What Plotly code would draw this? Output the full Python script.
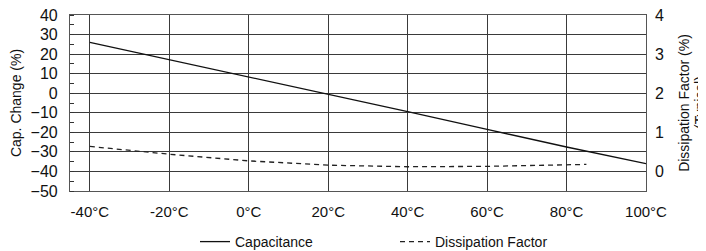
import plotly.graph_objects as go

# Data
cap_temp = [-40, -20, 0, 20, 40, 60, 80, 100]
cap_change = [26, 17.2, 8.3, -0.6, -9.4, -18.5, -27.5, -36]
df_temp = [-40, -20, 0, 20, 40, 60, 85]
df_value = [0.64, 0.44, 0.27, 0.16, 0.12, 0.13, 0.18]
x_tick_vals = [-40, -20, 0, 20, 40, 60, 80, 100]
x_tick_text = ["-40°C", "-20°C", "0°C", "20°C", "40°C", "60°C", "80°C", "100°C"]
y_tick_vals = [40, 30, 20, 10, 0, -10, -20, -30, -40, -50]
y2_tick_vals = [0, 1, 2, 3, 4]

FONT = "Liberation Sans, Arial, sans-serif"
GRID = "#3a3a3a"

# page body has an 8px default margin, so the figure is sized to fill the rest
W, H = 698, 243

fig = go.Figure()
fig.add_trace(go.Scatter(x=cap_temp, y=cap_change, mode="lines", name="Capacitance",
                         line=dict(color="#111111", width=1.3)))
fig.add_trace(go.Scatter(x=df_temp, y=df_value, mode="lines", name="Dissipation Factor",
                         yaxis="y2", line=dict(color="#222222", width=1.3, dash="5px,4px")))

fig.update_layout(
    width=W, height=H,
    margin=dict(l=62, r=60, t=7, b=60, autoexpand=False),
    plot_bgcolor="white", paper_bgcolor="white",
    font=dict(family=FONT, size=13, color="#111111"),
    xaxis=dict(range=[-45, 100], tickvals=x_tick_vals, ticktext=x_tick_text,
               showgrid=True, gridcolor=GRID, gridwidth=1,
               showline=True, linecolor="#555555", linewidth=1.2, mirror=True,
               ticks="", zeroline=False, tickfont=dict(size=15),
               ticklabelstandoff=7, automargin=False, ticklabeloverflow="allow"),
    yaxis=dict(range=[-50, 40], tickvals=y_tick_vals,
               showgrid=True, gridcolor=GRID, gridwidth=1,
               showline=True, linecolor="#555555", linewidth=1.2, mirror=True,
               ticks="", zeroline=False, tickfont=dict(size=16),
               ticklabelstandoff=8, automargin=False, ticklabeloverflow="allow",
               minor=dict(ticks="inside", dtick=5, tick0=5, ticklen=4, tickcolor="#333333", showgrid=False),
               title=dict(text="Cap. Change (%)", font=dict(size=14), standoff=8)),
    yaxis2=dict(range=[-0.5, 4], tickvals=y2_tick_vals, overlaying="y", side="right",
                showgrid=False, zeroline=False, showline=False, ticks="",
                tickfont=dict(size=16), ticklabelstandoff=8, automargin=False,
                ticklabeloverflow="allow",
                title=dict(text="Dissipation Factor (%)", font=dict(size=14), standoff=16)),
    showlegend=True,
    legend=dict(orientation="h", x=187/W, xanchor="left", xref="container",
                y=1 - 234/H, yanchor="middle", yref="container",
                entrywidth=155, entrywidthmode="pixels",
                font=dict(size=14), bgcolor="rgba(0,0,0,0)"),
    annotations=[dict(text="(Typical)", textangle=-90, xref="paper", yref="paper",
                      x=(692 - 62) / 576, y=0.5, showarrow=False,
                      xanchor="center", yanchor="middle", font=dict(size=14))],
)

fig.write_html("out.html")
